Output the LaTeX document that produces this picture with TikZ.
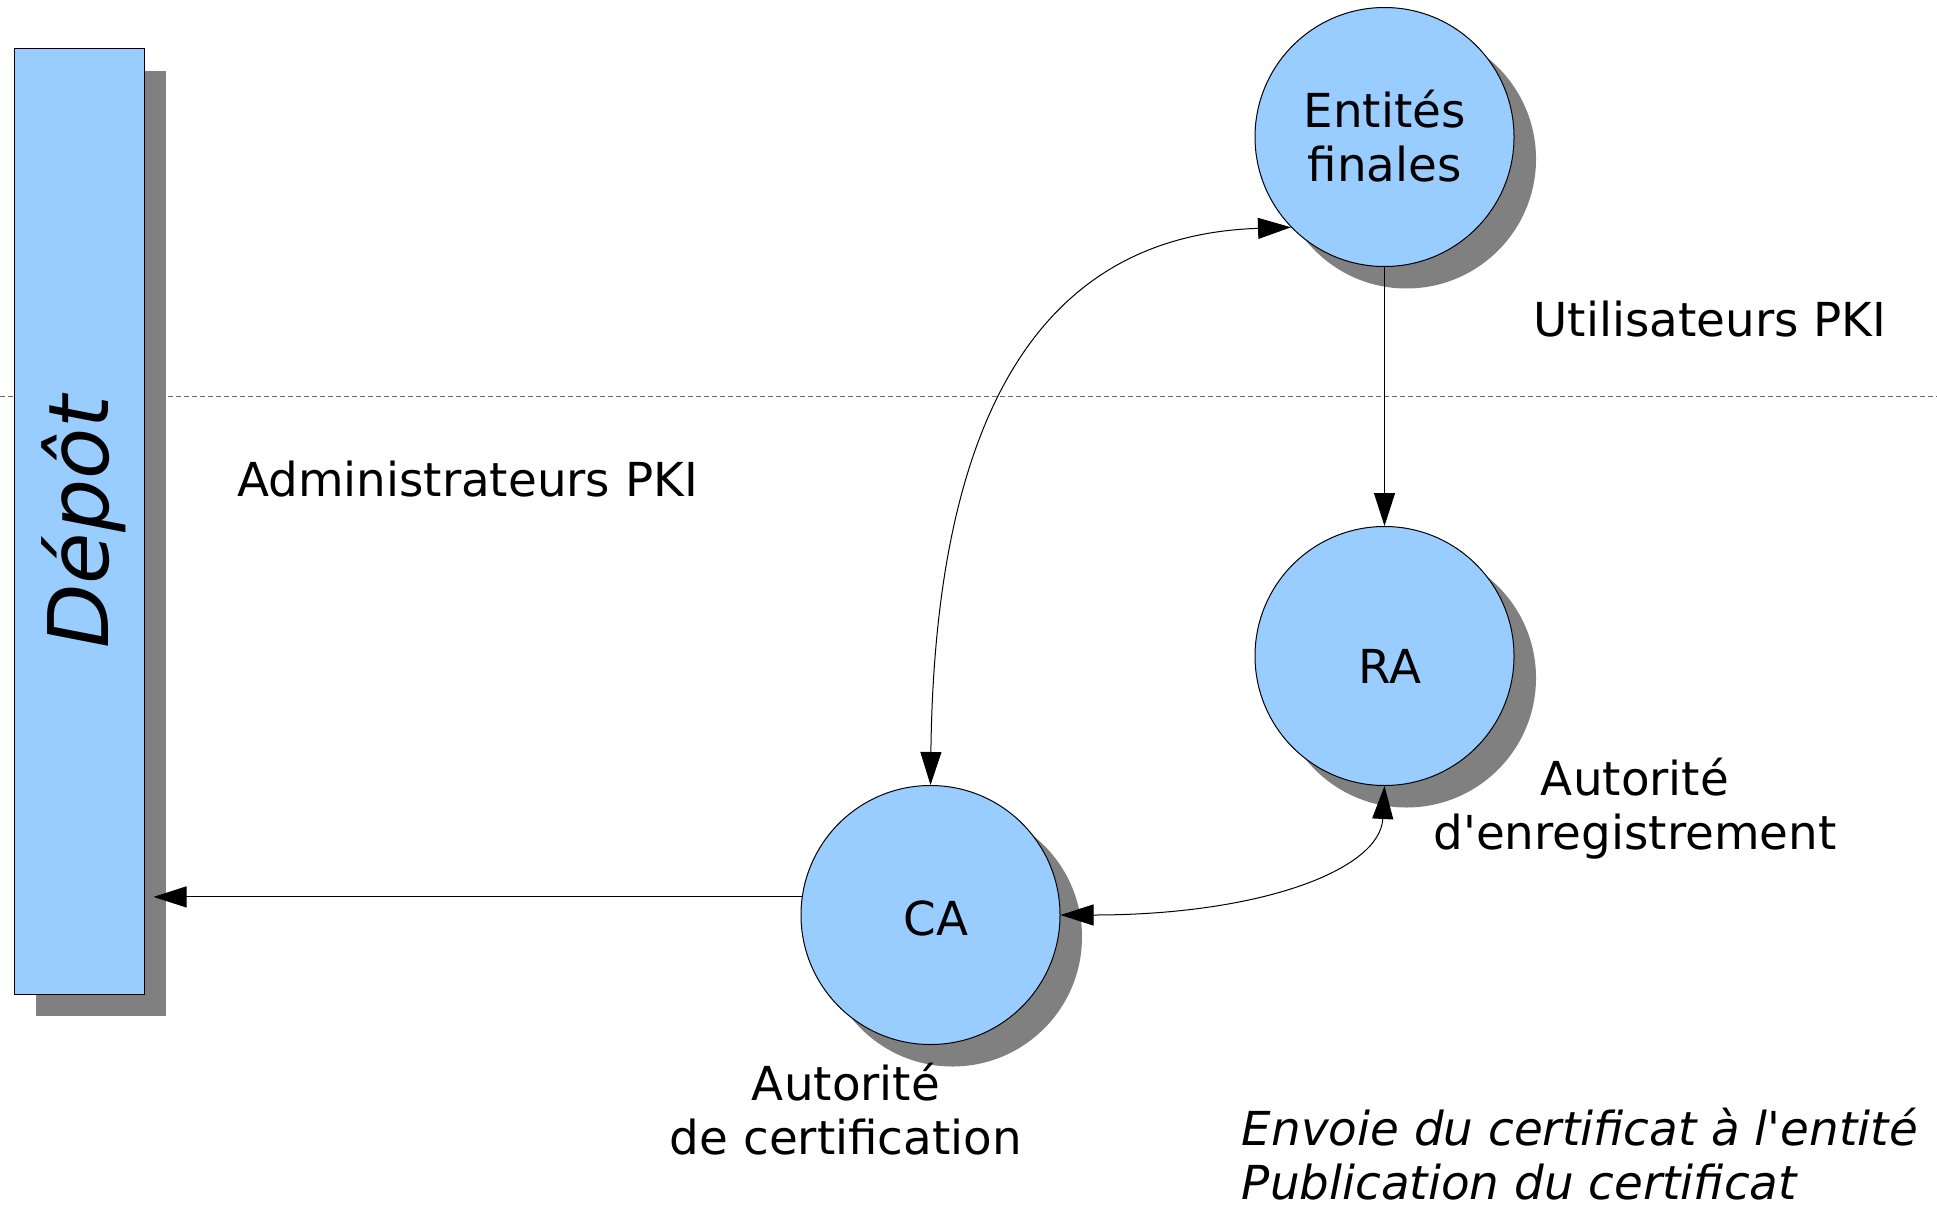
\documentclass[tikz,border=0pt]{standalone}
\usepackage{fontspec}
\setmainfont{DejaVu Sans}
\usetikzlibrary{arrows.meta,shadows}
\definecolor{nodeblue}{HTML}{99CCFF}
\definecolor{shadowgray}{HTML}{808080}
\definecolor{sepgray}{HTML}{666666}

\begin{document}
\begin{tikzpicture}[x=0.5pt,y=-0.5pt,
  >={Triangle[length=16.5pt,width=10.5pt]},
  every node/.style={font=\fontsize{23.4}{27}\selectfont},
  castshadow/.style={drop shadow={shadow xshift=11pt,shadow yshift=-11pt,fill=shadowgray,opacity=1}},
  entity/.style={circle,draw=black,line width=0.5pt,fill=nodeblue,
    minimum size=129.5pt,inner sep=0pt,castshadow},
  store/.style={rectangle,draw=black,line width=0.5pt,fill=nodeblue,
    minimum width=65pt,minimum height=472.5pt,inner sep=0pt,castshadow},
  conn/.style={line width=0.5pt,draw=black},
  lbl/.style={anchor=base,align=center,inner sep=0pt}
]
\useasboundingbox (0,0) rectangle (1937,1204);

% separation between users and administrators
\draw[sepgray,line width=0.5pt,dash pattern=on 2.5pt off 1.5pt] (0,396.5) -- (1937,396.5);

% repository
\node[store] (depot) at (79,521.5) {};
\node[rotate=90,anchor=base,inner sep=0pt,font=\fontsize{41.8}{50}\selectfont\itshape] (depotlbl) at (108,522) {Dépôt};

% entities
\node[entity] (ent) at (1384.5,137) {};
\node[entity] (ra) at (1384.5,656) {};
\node[entity] (ca) at (930.5,915) {};

% multi-line texts are placed by the baseline of their last line
\node[lbl] (enttxt) at (1384.5,181.7) {Entités\\finales};
\node[lbl] (ratxt) at (1390,683.3) {RA};
\node[lbl] (catxt) at (936,935.7) {CA};

% labels
\node[lbl] (util) at (1710,336.7) {Utilisateurs PKI};
\node[lbl] (admin) at (467.5,496.7) {Administrateurs PKI};
\node[lbl] (ralbl) at (1635,849) {Autorité\\d\textquotesingle enregistrement};
\node[lbl] (calbl) at (846,1154) {Autorité\\de certification};
\node[lbl,anchor=base west,align=left,font=\fontsize{23.4}{27}\selectfont\itshape] (notes) at (1241.5,1199.5)
  {Envoie du certificat à l\textquotesingle entité\\Publication du certificat};

% connectors
\draw[conn,->] (ent.south) -- (ra.north);
\draw[conn,<->] (ca.north) .. controls (935,400) and (1050,235) .. (ent.224);
\draw[conn,<->] (ca.east) .. controls (1260,915) and (1380,870) .. (ra.south);
\draw[conn,->,shorten >=4.5pt] (ca.172) -- (ca.172 -| depot.east);
\end{tikzpicture}
\end{document}
